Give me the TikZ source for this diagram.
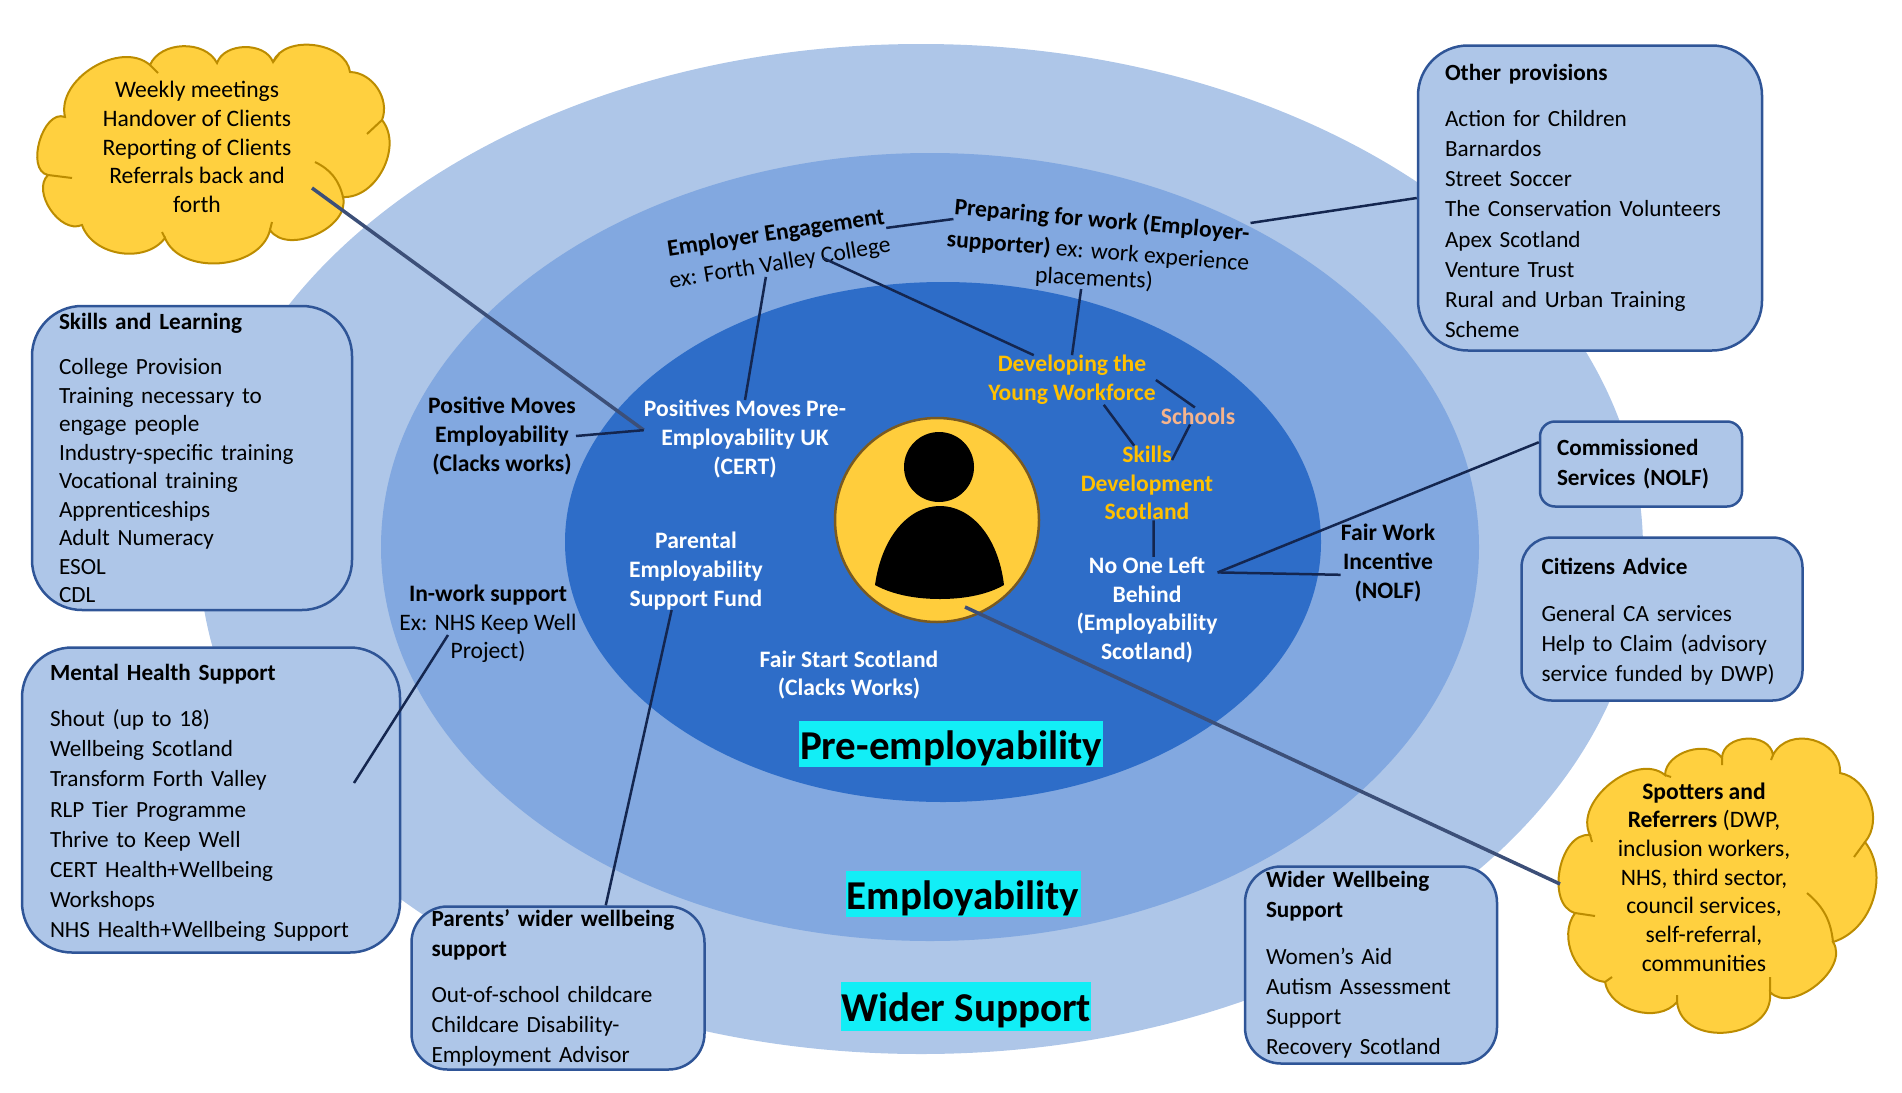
\documentclass[tikz,border=0pt]{standalone}
\usepackage{fontspec}
\setmainfont{Carlito}
\usetikzlibrary{shapes.geometric,calc}
\definecolor{ringOuter}{HTML}{AEC6E8}
\definecolor{ringMiddle}{HTML}{82A8E0}
\definecolor{ringInner}{HTML}{2E6DC8}
\definecolor{boxEdge}{HTML}{2F5597}
\definecolor{cloudFill}{HTML}{FFD03F}
\definecolor{cloudEdge}{HTML}{BC8C00}
\definecolor{lineDark}{HTML}{14264F}
\definecolor{lineSlate}{HTML}{3C4F78}
\definecolor{goldText}{HTML}{FFC000}
\definecolor{pinkText}{HTML}{F6B48C}
\definecolor{labelCyan}{HTML}{12EEF6}
\newcommand{\lowered}{\rule{0pt}{38pt}}
\newcommand{\topgap}{\rule{0pt}{22pt}}
\tikzset{
 ring/.style
  = {ellipse, inner sep=0pt, draw=none},
 infobox/.style
  = {rectangle, draw=boxEdge, line width=2.5pt, fill=ringOuter, inner sep=0pt, align=left,
     font=\fontsize{23.2}{30.2}\selectfont},
 tag/.style
  = {inner sep=0pt, align=center, font=\fontsize{23.6}{28.7}\selectfont},
 boldtag/.style
  = {tag, font=\fontsize{23.6}{28.7}\selectfont\bfseries},
 whitetag/.style
  = {boldtag, text=white},
 goldtag/.style
  = {boldtag, text=goldText},
 levellabel/.style
  = {rectangle, fill=labelCyan, inner sep=0pt, font=\fontsize{41}{43}\selectfont\bfseries},
 cloudshape/.style
  = {draw=cloudEdge, line width=2pt, fill=cloudFill},
 cloudtail/.style
  = {draw=cloudEdge, line width=2pt},
 lobe/.style
  = {bend left=#1},
 link/.style
  = {draw=lineDark, line width=2.5pt},
 longlink/.style
  = {draw=lineSlate, line width=3.5pt},
}
\begin{document}
\begin{tikzpicture}[x=1pt,y=-1pt]
    \useasboundingbox (0,0) rectangle (1902,1092);

    % the three rings
    \node [ring, fill=ringOuter, minimum width=1444, minimum height=1010] (wider) at (921,549) {};
    \node [ring, fill=ringMiddle, minimum width=1098, minimum height=788] (employ) at (930,547) {};
    \node [ring, fill=ringInner, minimum width=756, minimum height=520] (pre) at (943,542) {};

    % person in the middle
    \node [circle, draw={rgb,255:red,122;green,90;blue,32}, line width=2.5pt, fill={rgb,255:red,255;green,205;blue,60}, minimum size=204, inner sep=0pt] (client) at (937,520) {};
    \fill (939,467) circle (35);
    \fill (875,585) .. controls (882,535) and (910,506) .. (940,506) .. controls (970,506) and (998,535) .. (1004,585) .. controls (985,596) and (960,599) .. (940,599) .. controls (920,599) and (895,596) .. (875,585) -- cycle;

    % left cloud
    \draw [cloudshape] (65,117) to[lobe=72] (150,65) to[lobe=65] (217,63) to[lobe=70] (273,62) to[lobe=75] (350,72)
      to[lobe=55] (382,120) to[lobe=66] (343,197) to[lobe=80] (270,230) to[lobe=72] (165,238)
      to[lobe=62] (82,225) to[lobe=80] (48,175) to[lobe=95] cycle;
    \draw [cloudtail] (150,65) -- (158,73) (273,62) -- (279,54) (382,120) -- (367,134) (48,175) -- (72,178)
      (270,230) -- (272,222) (165,238) -- (162,232);
    \draw [cloudtail] (315,162) to[lobe=25] (343,197);
    \node [tag] (weekly) at (197,147) {Weekly meetings\\Handover of Clients\\Reporting of Clients\\Referrals back and\\forth};

    % right cloud
    \draw [cloudshape] (1590,835) to[lobe=78] (1665,775) to[lobe=72] (1722,758) to[lobe=85, looseness=1.2] (1773,755) to[lobe=78, looseness=1.25] (1840,773)
      to[lobe=60] (1865,842) to[lobe=55] (1833,942) to[lobe=85] (1770,992) to[lobe=90, looseness=1.3] (1677,1002)
      to[lobe=65] (1605,982) to[lobe=60] (1575,913) to[lobe=85] cycle;
    \draw [cloudtail] (1665,775) -- (1671,777) (1722,758) -- (1722,765) (1773,755) -- (1771,760) (1865,842) -- (1854,857)
      (1770,992) -- (1770,977) (1677,1002) -- (1677,995) (1605,982) -- (1612,977) (1575,913) -- (1595,916) (1590,835) -- (1592,842);
    \draw [cloudtail] (1807,893) to[lobe=22] (1833,942);
    \node [tag] (spotters) at (1704,877) {\textbf{Spotters and}\\\textbf{Referrers} (DWP,\\inclusion workers,\\NHS, third sector,\\council services,\\self-referral,\\communities};

    % boxes round the rings
    \node [infobox, rounded corners=50, minimum width=320, minimum height=304, text width=266] (skills) at (192,458)
      {\textbf{Skills and Learning}\\[15pt] College Provision\\[-1.7pt] Training necessary to\\[-1.7pt] engage people\\[-1.7pt] Industry-specific training\\[-1.7pt] Vocational training\\[-1.7pt] Apprenticeships\\[-1.7pt] Adult Numeracy\\[-1.7pt] ESOL\\[-1.7pt] CDL};
    \node [infobox, rounded corners=50, minimum width=378, minimum height=305, text width=322] (mental) at (211,800)
      {\topgap\textbf{Mental Health Support}\\[16pt] Shout (up to 18)\\ Wellbeing Scotland\\ Transform Forth Valley\\ RLP Tier Programme\\ Thrive to Keep Well\\ CERT Health+Wellbeing\\ Workshops\\ NHS Health+Wellbeing Support};
    \node [infobox, rounded corners=36, minimum width=293, minimum height=163, text width=253] (parents) at (558,988)
      {\textbf{Parents’ wider wellbeing}\\ \textbf{support}\\[16pt] Out-of-school childcare\\ Childcare Disability-\\ Employment Advisor};
    \node [infobox, rounded corners=36, minimum width=252, minimum height=197, text width=210] (wellbeing) at (1371,965)
      {\textbf{Wider Wellbeing}\\ \textbf{Support}\\[16pt] Women’s Aid\\ Autism Assessment\\ Support\\ Recovery Scotland};
    \node [infobox, rounded corners=30, minimum width=281, minimum height=163, text width=241] (citizens) at (1662,619)
      {\topgap\textbf{Citizens Advice}\\[16pt] General CA services\\ Help to Claim (advisory\\ service funded by DWP)};
    \node [infobox, rounded corners=15, minimum width=202, minimum height=85, text width=168] (commissioned) at (1641,464)
      {\textbf{Commissioned}\\ \textbf{Services (NOLF)}};
    \node [infobox, rounded corners=50, minimum width=344, minimum height=305, text width=290] (other) at (1590,198)
      {\topgap\textbf{Other provisions}\\[16pt] Action for Children\\ Barnardos\\ Street Soccer\\ The Conservation Volunteers\\ Apex Scotland\\ Venture Trust\\ Rural and Urban Training\\ Scheme};

    % texts on the rings
    \node [boldtag, rotate=8.6] (employer) at (776,234) {Employer Engagement};
    \node [tag, rotate=9.4] (college) at (780,264) {ex: Forth Valley College};
    \node [boldtag, rotate=-5] (preparing) at (1102,221) {Preparing for work (Employer-};
    \node [tag, rotate=-4.5] (supporter) at (1098,252) {\textbf{supporter)} ex: work experience};
    \node [tag, rotate=-3] (placements) at (1094,279) {placements)};
    \node [boldtag] (movesEmp) at (502,436) {Positive Moves\\Employability\\(Clacks works)};
    \node [tag] (inwork) at (488,624) {\textbf{In-work support}\\Ex: NHS Keep Well\\Project)};
    \node [boldtag] (fairwork) at (1388,563) {Fair Work\\Incentive\\(NOLF)};

    \node [whitetag] (movesPre) at (745,439) {Positives Moves Pre-\\Employability UK\\(CERT)};
    \node [whitetag] (parental) at (696,571) {Parental\\Employability\\Support Fund};
    \node [whitetag] (fairstart) at (849,675) {Fair Start Scotland\\(Clacks Works)};
    \node [goldtag] (developing) at (1072,380) {Developing the\\Young Workforce};
    \node [boldtag, text=pinkText] (schools) at (1198,416) {Schools};
    \node [goldtag] (sds) at (1147,483) {Skills\\Development\\Scotland};
    \node [whitetag] (noone) at (1147,610) {No One Left\\Behind\\(Employability\\Scotland)};

    \node [levellabel, minimum width=304, minimum height=46] (labelPre) at (951,744) {\lowered Pre-employability};
    \node [levellabel, minimum width=235, minimum height=46] (labelEmp) at (963,894) {\lowered Employability};
    \node [levellabel, minimum width=248, minimum height=49] (labelWider) at (966,1006) {\lowered Wider Support};

    % connectors
    \path [longlink] ($(weekly.center)+(115,41)$) -- (movesPre.175);
    \path [longlink] ($(client.center)+(28,87)$) -- ($(spotters.center)+(-144,7)$);
    \path [link] (movesEmp.east) -- (movesPre.175);
    \path [link] (college.-147) -- (movesPre.north);
    \path [link] (employer.south east) -- (preparing.south west);
    \path [link] ($(college.center)+(43,-6)$) -- (developing.147);
    \path [link] (placements.221) -- (developing.north);
    \path [link] (preparing.north east) -- (other.west);
    \path [link] (developing.east) -- (schools.110);
    \path [link] (developing.-38) -- (sds.109);
    \path [link] (schools.-133) -- ($(sds.center)+(25,-23)$);
    \path [link] (sds.-80) -- (noone.83);
    \path [link] (noone.28) -- (commissioned.168);
    \path [link] (noone.28) -- (fairwork.194);
    \path [link] ($(inwork.center)+(-40,11)$) -- ($(mental.center)+(143,-17)$);
    \path [link] (parental.-122) -- (parents.60);
\end{tikzpicture}
\end{document}
